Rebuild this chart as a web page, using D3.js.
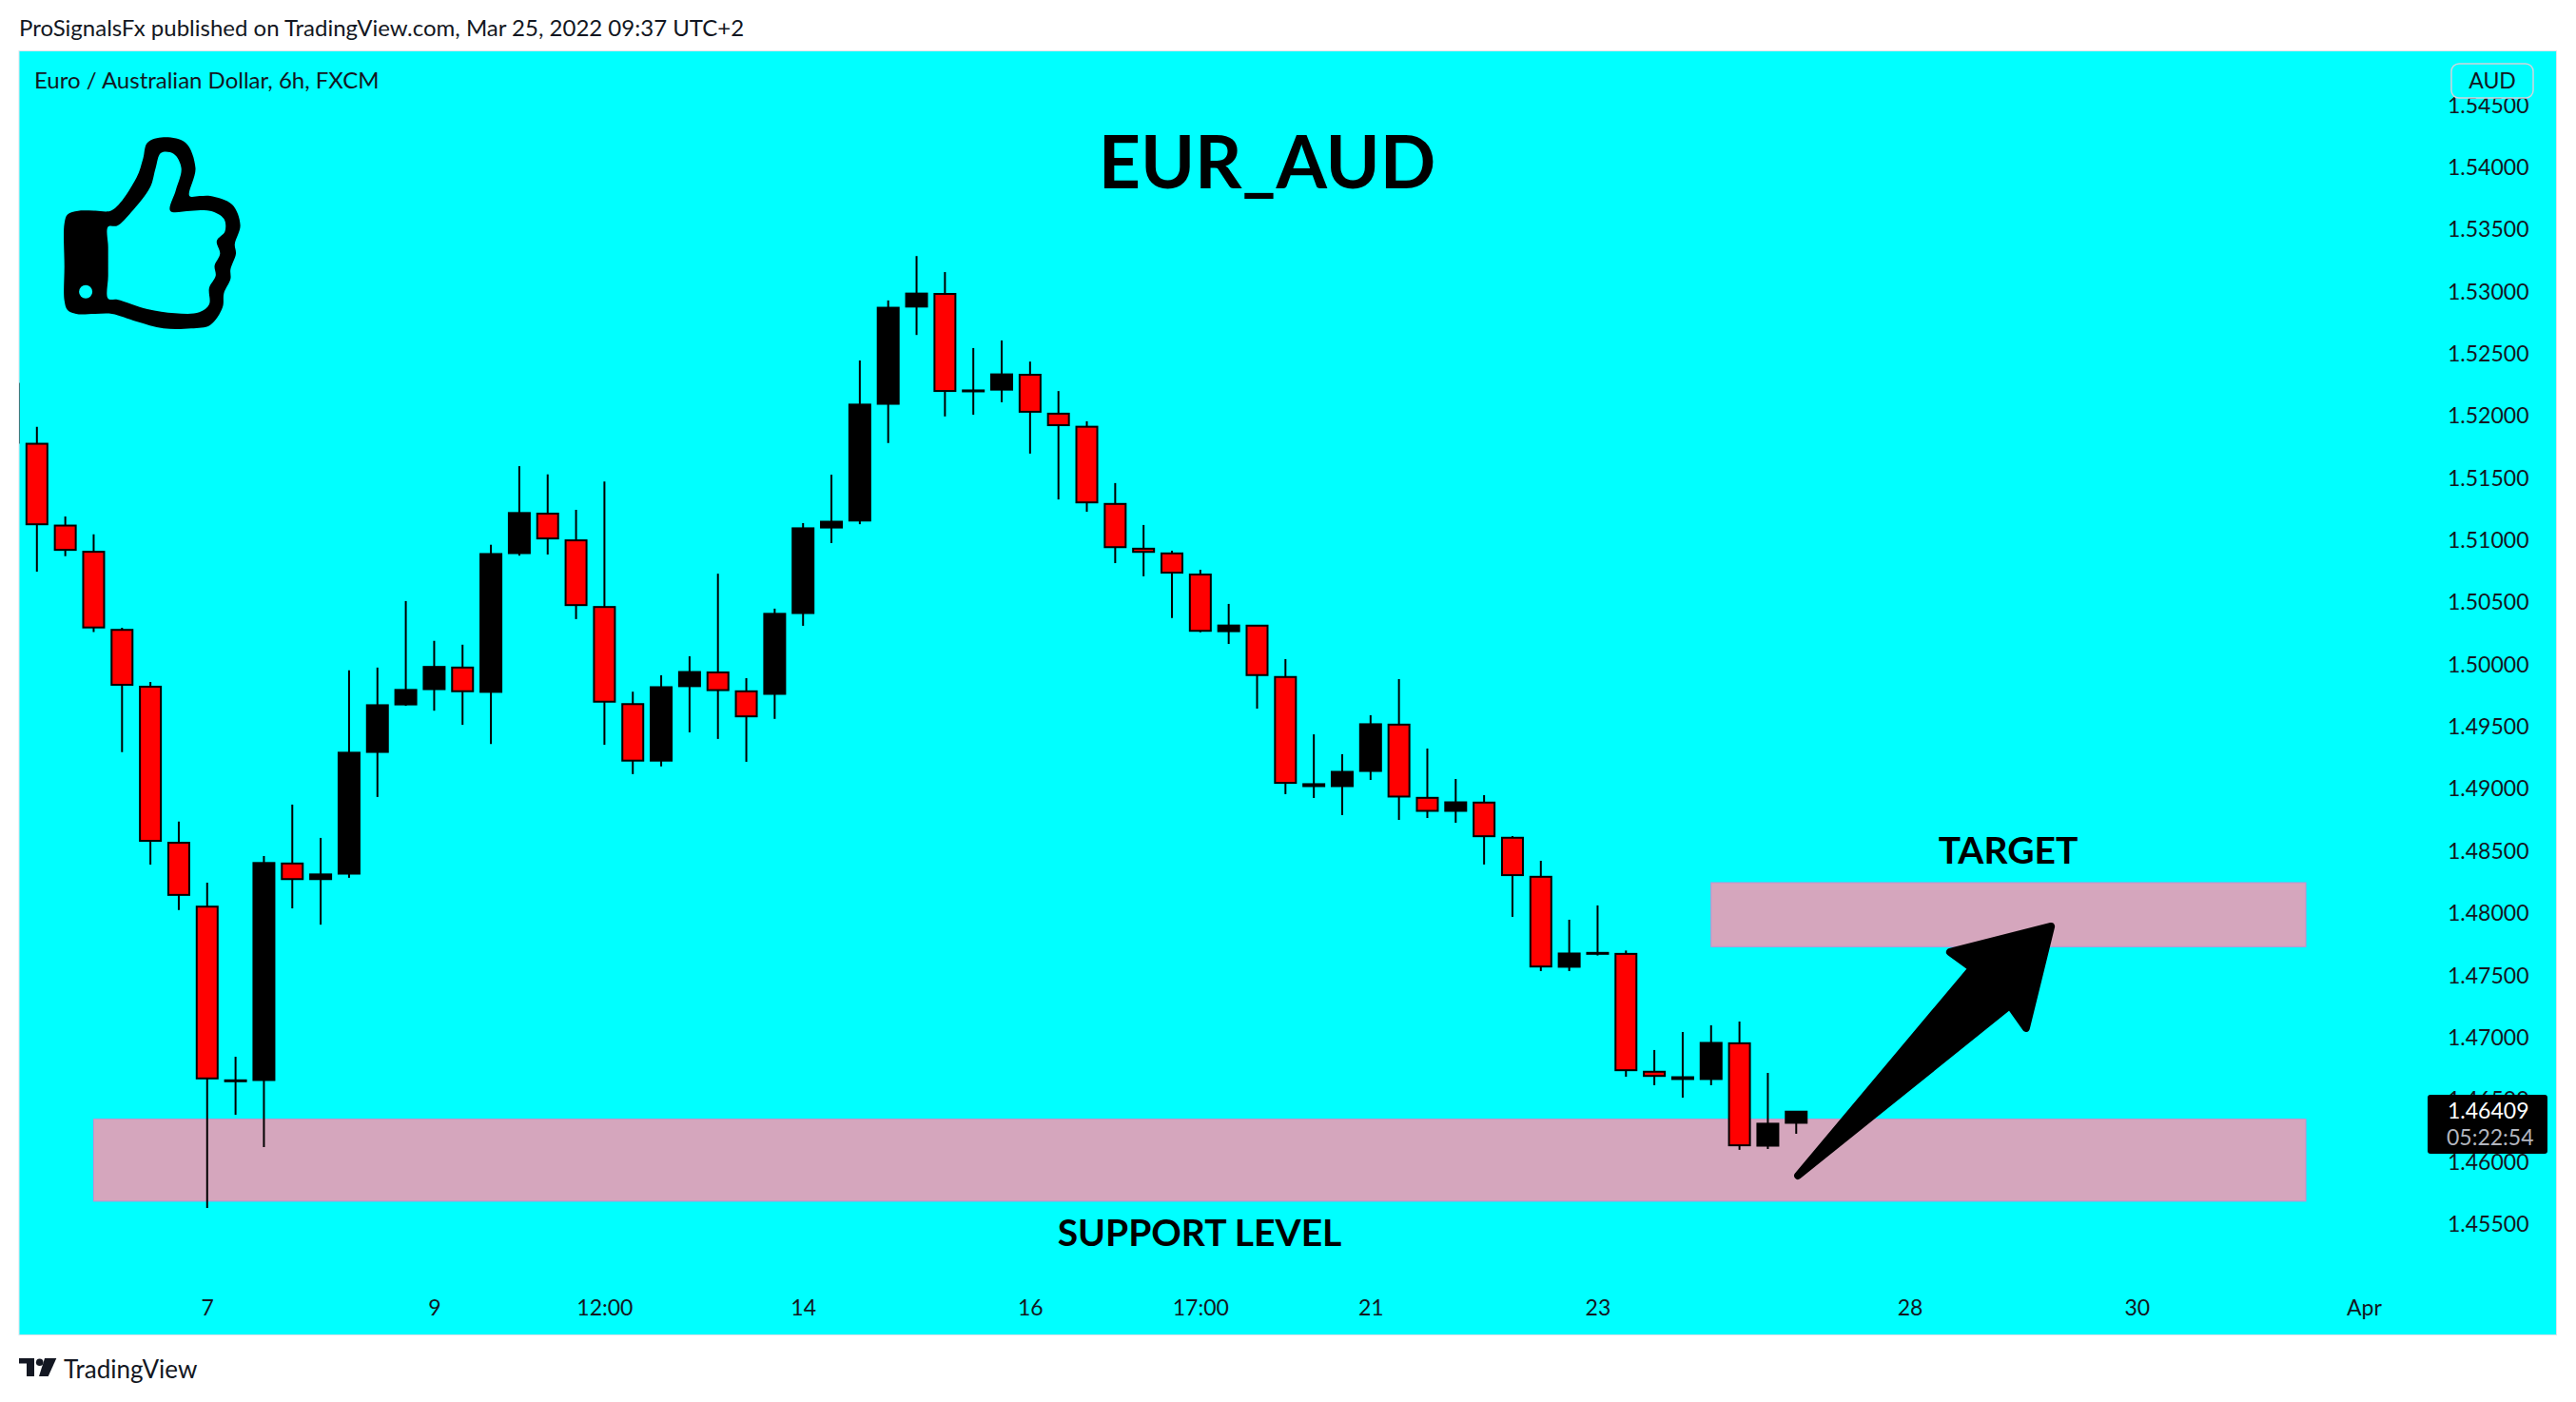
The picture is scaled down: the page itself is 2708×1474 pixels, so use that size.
<!DOCTYPE html>
<html>
<head>
<meta charset="utf-8">
<script src="https://cdn.jsdelivr.net/npm/d3@7"></script>
<style>
    html, body { margin: 0; padding: 0; background: #fff; }
    svg { display: block; }
    text { font-family: Lato, "Open Sans", sans-serif; fill: #131722; }
    .axis path, .axis line { display: none; }
    .axis text { font-family: Lato, sans-serif; font-size: 23px; fill: #131722; }
</style>
</head>
<body>
<div id="chart"></div>
<script>
// candles, 6h bars. bar 0 is the one cut off by the left edge of the pane
const opens = [1.52263, 1.51781, 1.51123, 1.50912, 1.50284, 1.49827, 1.48572, 1.48058, 1.46657, 1.46648, 1.48405, 1.48264, 1.48308, 1.49287,
    1.49669, 1.49792, 1.49981, 1.49770, 1.50886, 1.51219, 1.51004, 1.50468, 1.49687, 1.49217, 1.49816, 1.49942, 1.49790, 1.49754, 1.50404,
    1.51092, 1.51148, 1.52087, 1.52869, 1.52986, 1.52187, 1.52201, 1.52336, 1.52023, 1.51918, 1.51297, 1.50937, 1.50899, 1.50729, 1.50258,
    1.50318, 1.49905, 1.49012, 1.49012, 1.49134, 1.49522, 1.48933, 1.48813, 1.48895, 1.48612, 1.48298, 1.47559, 1.47671, 1.47678, 1.46730,
    1.46656, 1.46656, 1.46959, 1.46120, 1.46304];
const highs = [1.52263, 1.51913, 1.51193, 1.51048, 1.50297, 1.49862, 1.48738, 1.48247, 1.46846, 1.48462, 1.48875, 1.48607, 1.49955, 1.49977,
    1.50512, 1.50192, 1.50161, 1.50965, 1.51597, 1.51531, 1.51246, 1.51474, 1.49783, 1.49915, 1.50068, 1.50732, 1.49892, 1.50451, 1.51139,
    1.51528, 1.52447, 1.52930, 1.53287, 1.53158, 1.52547, 1.52608, 1.52438, 1.52201, 1.51958, 1.51461, 1.51124, 1.50916, 1.50764, 1.50489,
    1.50318, 1.50045, 1.49440, 1.49280, 1.49594, 1.49884, 1.49326, 1.49081, 1.48951, 1.48622, 1.48423, 1.47949, 1.48064, 1.47701, 1.46901,
    1.47046, 1.47100, 1.47130, 1.46717, 1.46411];
const lows = [1.51774, 1.50749, 1.50872, 1.50262, 1.49296, 1.48392, 1.48027, 1.45630, 1.46380, 1.46121, 1.48040, 1.47909, 1.48286, 1.48936,
    1.49669, 1.49630, 1.49516, 1.49362, 1.50877, 1.50886, 1.50367, 1.49357, 1.49120, 1.49182, 1.49456, 1.49403, 1.49219, 1.49564, 1.50313,
    1.50978, 1.51130, 1.51783, 1.52652, 1.51997, 1.52011, 1.52111, 1.51698, 1.51329, 1.51230, 1.50817, 1.50711, 1.50375, 1.50261, 1.50167,
    1.49647, 1.48959, 1.48928, 1.48790, 1.49073, 1.48752, 1.48767, 1.48729, 1.48393, 1.47972, 1.47536, 1.47536, 1.47661, 1.46686, 1.46618,
    1.46518, 1.46618, 1.46098, 1.46105, 1.46227];
const closes = [1.51774, 1.51118, 1.50912, 1.50288, 1.49827, 1.48572, 1.48137, 1.46661, 1.46661, 1.48409, 1.48264, 1.48317, 1.49296, 1.49678,
    1.49801, 1.49986, 1.49775, 1.50894, 1.51224, 1.51004, 1.50468, 1.49691, 1.49217, 1.49823, 1.49945, 1.49784, 1.49573, 1.50413, 1.51101,
    1.51154, 1.52096, 1.52875, 1.52989, 1.52190, 1.52210, 1.52339, 1.52023, 1.51915, 1.51294, 1.50934, 1.50896, 1.50729, 1.50261, 1.50319,
    1.49905, 1.49038, 1.49043, 1.49142, 1.49525, 1.48928, 1.48813, 1.48897, 1.48609, 1.48296, 1.47561, 1.47681, 1.47686, 1.46727, 1.46681,
    1.46686, 1.46962, 1.46123, 1.46312, 1.46409];

const priceTicks = [1.455, 1.46, 1.465, 1.47, 1.475, 1.48, 1.485, 1.49, 1.495, 1.5, 1.505, 1.51, 1.515, 1.52, 1.525, 1.53, 1.535, 1.54, 1.545];
const timeTickBars = [7, 15, 21, 28, 36, 42, 48, 56, 67, 75, 83];
const timeTickLabels = ["7", "9", "12:00", "14", "16", "17:00", "21", "23", "28", "30", "Apr"];

// drawings on the chart, in bars and prices
const zoneNames = ["SUPPORT LEVEL", "TARGET"];
const zoneFromBars = [3, 60];
const zoneToBars = [80.96, 80.96];
const zoneTops = [1.46345, 1.48247];
const zoneBottoms = [1.45685, 1.47732];
const arrowBars = [63.06, 69.2, 68.42, 71.98, 71.1, 70.53];
const arrowPrices = [1.45891, 1.47559, 1.47689, 1.47895, 1.47077, 1.4726];

const lastPrice = "1.46409";
const countdown = "05:22:54";

const pane = {left: 20.5, top: 54, right: 2687, bottom: 1403};

const svg = d3.select("#chart").append("svg")
    .attr("width", 2708)
    .attr("height", 1474);

const x = d3.scaleLinear().domain([0, 83]).range([8.97, 2484.86]);
const y = d3.scaleLinear().domain([1.46, 1.53]).range([1221.7, 306.7]);

// pane
svg.append("rect")
    .attr("x", pane.left - 0.5)
    .attr("y", pane.top - 0.5)
    .attr("width", pane.right - pane.left + 1)
    .attr("height", pane.bottom - pane.top + 1)
    .attr("fill", "#00ffff")
    .attr("stroke", "#e0e3eb");

svg.append("clipPath").attr("id", "paneClip")
    .append("rect")
    .attr("x", pane.left)
    .attr("y", pane.top)
    .attr("width", pane.right - pane.left)
    .attr("height", pane.bottom - pane.top);

const plot = svg.append("g").attr("clip-path", "url(#paneClip)");

// axes
svg.append("g")
    .attr("class", "axis")
    .attr("transform", "translate(2573,0)")
    .call(d3.axisRight(y).tickValues(priceTicks).tickFormat(d3.format(".5f")).tickSize(0).tickPadding(0));

svg.append("g")
    .attr("class", "axis")
    .attr("transform", "translate(0,1367)")
    .call(d3.axisBottom(x).tickValues(timeTickBars).tickFormat((d, i) => timeTickLabels[i]).tickSize(0).tickPadding(0));

// zones sit under the candles
plot.selectAll(".zone")
    .data(zoneNames)
    .enter().append("rect")
    .attr("class", "zone")
    .attr("x", (d, i) => x(zoneFromBars[i]))
    .attr("y", (d, i) => y(zoneTops[i]))
    .attr("width", (d, i) => x(zoneToBars[i]) - x(zoneFromBars[i]))
    .attr("height", (d, i) => y(zoneBottoms[i]) - y(zoneTops[i]))
    .attr("fill", "#d5a6bd")
    .attr("stroke", "#c48fd0")
    .attr("stroke-width", 1);

// candles
const bodyWidth = 24;
const candles = plot.selectAll(".candle")
    .data(opens)
    .enter().append("g")
    .attr("class", "candle");

candles.append("line")
    .attr("x1", (d, i) => x(i))
    .attr("x2", (d, i) => x(i))
    .attr("y1", (d, i) => y(highs[i]))
    .attr("y2", (d, i) => y(lows[i]))
    .attr("stroke", "#000")
    .attr("stroke-width", 2);

candles.append("rect")
    .attr("x", (d, i) => x(i) - bodyWidth / 2 + 1)
    .attr("width", bodyWidth - 2)
    .attr("y", (d, i) => y(Math.max(d, closes[i])) + 0.5)
    .attr("height", (d, i) => Math.max(1, Math.abs(y(d) - y(closes[i])) - 2))
    .attr("fill", (d, i) => closes[i] >= d ? "#000" : "#f00")
    .attr("stroke", "#000")
    .attr("stroke-width", 2);

// big arrow
plot.append("path")
    .attr("d", d3.line().x(d => x(d[0])).y(d => y(d[1])).curve(d3.curveLinearClosed)(d3.zip(arrowBars, arrowPrices)))
    .attr("fill", "#000")
    .attr("stroke", "#000")
    .attr("stroke-width", 8)
    .attr("stroke-linejoin", "round");

// thumb icon
const thumbOuter = [[82, 221.7], [100, 221.5], [117.7, 221], [143.5, 186.7], [150.4, 166.7], [155, 150], [172, 144.3], [195, 150], [205.5, 176.7], [199.2, 206],
    [210, 206], [221, 206], [244, 215], [252.6, 236.7], [246.8, 256.7], [248, 266.7], [242.3, 283.3], [242.3, 293.3], [235.4, 308.3], [234, 323], [221, 341.7],
    [201, 345.3], [172, 345.3], [143.5, 338], [117.7, 330], [100, 330], [80, 330], [71, 326], [67.7, 316], [67.7, 280], [67.7, 235], [71, 225.5]];
const thumbInner = [[113.7, 238.3], [123.4, 237.3], [137.8, 223.3], [157.9, 196.7], [163.6, 176.7], [169.3, 160.7], [182.6, 161.7], [190.6, 176.7],
    [184.8, 200], [179, 221.7], [200, 221.7], [221, 221.7], [235.4, 230], [236.5, 243.3], [227.9, 253.3], [231.3, 266.7], [225.6, 279.3], [226.7, 290], [219.9, 302.7],
    [219.9, 320], [209.5, 328.3], [183.7, 329.3], [155, 325], [123.4, 315], [113.7, 314], [113.7, 290], [113.7, 260]];
const thumbLine = d3.line().curve(d3.curveCatmullRomClosed.alpha(0.5));
svg.append("path")
    .attr("d", thumbLine(thumbOuter) + thumbLine(thumbInner))
    .attr("fill", "#000")
    .attr("fill-rule", "evenodd");
svg.append("circle")
    .attr("cx", 90.1)
    .attr("cy", 306.7)
    .attr("r", 7)
    .attr("fill", "#00ffff");

// texts on the chart
svg.append("text").text("EUR_AUD")
    .attr("x", 1332).attr("y", 198)
    .attr("text-anchor", "middle")
    .style("font-size", "77px").style("font-weight", 700).style("fill", "#000");
svg.append("text").text(zoneNames[1])
    .attr("x", 2111).attr("y", 908)
    .attr("text-anchor", "middle")
    .style("font-size", "39px").style("font-weight", 700).style("fill", "#000");
svg.append("text").text(zoneNames[0])
    .attr("x", 1261).attr("y", 1310)
    .attr("text-anchor", "middle")
    .style("font-size", "39px").style("font-weight", 700).style("fill", "#000");

// header, legend, footer
svg.append("text").text("ProSignalsFx published on TradingView.com, Mar 25, 2022 09:37 UTC+2")
    .attr("x", 20).attr("y", 38).style("font-size", "24px");
svg.append("text").text("Euro / Australian Dollar, 6h, FXCM")
    .attr("x", 36).attr("y", 93).style("font-size", "24px");

// currency button
svg.append("rect")
    .attr("x", 2577).attr("y", 67).attr("width", 86).attr("height", 36).attr("rx", 8)
    .attr("fill", "#00ffff").attr("stroke", "#d1d4dc").attr("stroke-width", 1.5);
svg.append("text").text("AUD")
    .attr("x", 2620).attr("y", 93).attr("text-anchor", "middle").style("font-size", "23px");

// last price tag
svg.append("rect")
    .attr("x", 2552).attr("y", 1151).attr("width", 126).attr("height", 62).attr("rx", 3)
    .attr("fill", "#000");
svg.append("text").text(lastPrice)
    .attr("x", 2573).attr("y", 1176).style("font-size", "23px").style("fill", "#fff");
svg.append("text").text(countdown)
    .attr("x", 2572).attr("y", 1204).style("font-size", "23px").style("fill", "#b2b5be");

// TradingView logo
const logo = svg.append("g").attr("fill", "#131722");
logo.append("path").attr("d", "M20 1428H36V1447H28V1433.6H20Z");
logo.append("circle").attr("cx", 41.7).attr("cy", 1432.3).attr("r", 3.8);
logo.append("path").attr("d", "M47 1428H59.3L50.7 1447H41Z");
svg.append("text").text("TradingView")
    .attr("x", 67).attr("y", 1449).style("font-size", "26px");
</script>
</body>
</html>
